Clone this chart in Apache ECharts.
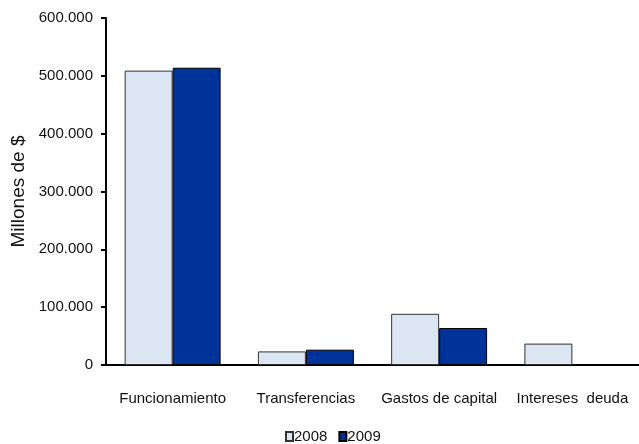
<!DOCTYPE html>
<html>
<head>
<meta charset="utf-8">
<script src="https://cdn.jsdelivr.net/npm/echarts@6/dist/echarts.min.js"></script>
<style>html,body{margin:0;padding:0;background:#fff;}#c{width:639px;height:444px;}</style>
</head>
<body>
<div id="c"></div>
<script>
var categories = ['Funcionamiento', 'Transferencias', 'Gastos de capital', 'Intereses  deuda'];
var values2008 = [509000, 23500, 88500, 37000];
var values2009 = [514000, 26500, 64000, 0];
var seriesNames = ['2008', '2009'];
var yTicks = { min: 0, max: 600000, interval: 100000 };

function fmt(v) {
  return String(v).replace(/\B(?=(\d{3})+(?!\d))/g, '.');
}

var chart = echarts.init(document.getElementById('c'), null, { renderer: 'canvas' });
var font = 'Liberation Sans, Arial, sans-serif';
chart.setOption({
  animation: false,
  backgroundColor: '#ffffff',
  textStyle: { fontFamily: font, color: '#111' },
  grid: { left: 106, right: 0, top: 18, bottom: 79, containLabel: false },
  legend: {
    top: 424,
    left: 280,
    itemWidth: 7,
    itemHeight: 9,
    itemGap: 11,
    icon: 'rect',
    textStyle: { fontFamily: font, fontSize: 15, color: '#111', padding: [0, 0, 0, -4] },
    data: seriesNames
  },
  xAxis: {
    type: 'category',
    data: categories,
    axisLine: { lineStyle: { color: '#000', width: 2 } },
    axisTick: { show: false },
    axisLabel: { fontFamily: font, fontSize: 15, color: '#111', margin: 26, interval: 0 }
  },
  yAxis: {
    type: 'value',
    min: yTicks.min,
    max: yTicks.max,
    interval: yTicks.interval,
    name: 'Millones de $',
    nameLocation: 'middle',
    nameGap: 78,
    nameRotate: 90,
    nameTextStyle: { fontFamily: font, fontSize: 19, color: '#111' },
    axisLine: { show: true, lineStyle: { color: '#000', width: 2 } },
    axisTick: { show: true, length: 5, lineStyle: { color: '#000', width: 2 } },
    axisLabel: { fontFamily: font, fontSize: 15, color: '#111', margin: 13, formatter: fmt },
    splitLine: { show: false }
  },
  series: [
    {
      name: seriesNames[0],
      type: 'bar',
      data: values2008,
      barGap: '0%',
      barCategoryGap: '28%',
      itemStyle: { color: '#dce6f2', borderColor: '#333', borderWidth: 1 }
    },
    {
      name: seriesNames[1],
      type: 'bar',
      data: values2009,
      itemStyle: { color: '#003399', borderColor: '#000', borderWidth: 1 }
    }
  ]
});
</script>
</body>
</html>
